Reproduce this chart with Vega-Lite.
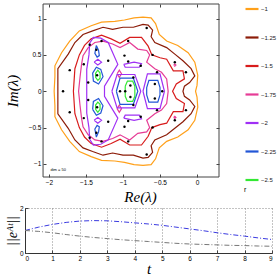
{
"$schema":"https://vega.github.io/schema/vega-lite/v6.json",
"padding":{"left":5,"top":1,"right":0,"bottom":0},
"spacing":0,
"config":{"font":"Liberation Sans","view":{"stroke":null}},
"datasets":{
"contours":[
{"r":"−1","id":"o","o":0,"x":-1.93,"y":0},{"r":"−1","id":"o","o":1,"x":-1.92,"y":0.2},{"r":"−1","id":"o","o":2,"x":-1.92,"y":0.35},{"r":"−1","id":"o","o":3,"x":-1.83,"y":0.53},{"r":"−1","id":"o","o":4,"x":-1.72,"y":0.69},{"r":"−1","id":"o","o":5,"x":-1.59,"y":0.83},{"r":"−1","id":"o","o":6,"x":-1.43,"y":0.9},{"r":"−1","id":"o","o":7,"x":-1.29,"y":0.95},{"r":"−1","id":"o","o":8,"x":-1.11,"y":0.96},{"r":"−1","id":"o","o":9,"x":-0.98,"y":0.98},{"r":"−1","id":"o","o":10,"x":-0.85,"y":1.01},{"r":"−1","id":"o","o":11,"x":-0.73,"y":1.02},{"r":"−1","id":"o","o":12,"x":-0.62,"y":1.01},{"r":"−1","id":"o","o":13,"x":-0.56,"y":0.93},{"r":"−1","id":"o","o":14,"x":-0.51,"y":0.78},{"r":"−1","id":"o","o":15,"x":-0.41,"y":0.69},{"r":"−1","id":"o","o":16,"x":-0.26,"y":0.63},{"r":"−1","id":"o","o":17,"x":-0.12,"y":0.53},{"r":"−1","id":"o","o":18,"x":-0.03,"y":0.4},{"r":"−1","id":"o","o":19,"x":0.01,"y":0.22},{"r":"−1","id":"o","o":20,"x":0.0,"y":0.08},{"r":"−1","id":"o","o":21,"x":-0.02,"y":0},{"r":"−1","id":"o","o":22,"x":0.0,"y":-0.08},{"r":"−1","id":"o","o":23,"x":0.01,"y":-0.22},{"r":"−1","id":"o","o":24,"x":-0.03,"y":-0.4},{"r":"−1","id":"o","o":25,"x":-0.12,"y":-0.53},{"r":"−1","id":"o","o":26,"x":-0.26,"y":-0.63},{"r":"−1","id":"o","o":27,"x":-0.41,"y":-0.69},{"r":"−1","id":"o","o":28,"x":-0.51,"y":-0.78},{"r":"−1","id":"o","o":29,"x":-0.56,"y":-0.93},{"r":"−1","id":"o","o":30,"x":-0.62,"y":-1.01},{"r":"−1","id":"o","o":31,"x":-0.73,"y":-1.02},{"r":"−1","id":"o","o":32,"x":-0.85,"y":-1.01},{"r":"−1","id":"o","o":33,"x":-0.98,"y":-0.98},{"r":"−1","id":"o","o":34,"x":-1.11,"y":-0.96},{"r":"−1","id":"o","o":35,"x":-1.29,"y":-0.95},{"r":"−1","id":"o","o":36,"x":-1.43,"y":-0.9},{"r":"−1","id":"o","o":37,"x":-1.59,"y":-0.83},{"r":"−1","id":"o","o":38,"x":-1.72,"y":-0.69},{"r":"−1","id":"o","o":39,"x":-1.83,"y":-0.53},{"r":"−1","id":"o","o":40,"x":-1.92,"y":-0.35},{"r":"−1","id":"o","o":41,"x":-1.92,"y":-0.2},{"r":"−1","id":"o","o":42,"x":-1.93,"y":0},
{"r":"−1.25","id":"b","o":0,"x":-1.88,"y":0},{"r":"−1.25","id":"b","o":1,"x":-1.88,"y":0.31},{"r":"−1.25","id":"b","o":2,"x":-1.74,"y":0.51},{"r":"−1.25","id":"b","o":3,"x":-1.65,"y":0.67},{"r":"−1.25","id":"b","o":4,"x":-1.54,"y":0.78},{"r":"−1.25","id":"b","o":5,"x":-1.41,"y":0.83},{"r":"−1.25","id":"b","o":6,"x":-1.27,"y":0.88},{"r":"−1.25","id":"b","o":7,"x":-1.14,"y":0.85},{"r":"−1.25","id":"b","o":8,"x":-1.0,"y":0.88},{"r":"−1.25","id":"b","o":9,"x":-0.86,"y":0.88},{"r":"−1.25","id":"b","o":10,"x":-0.73,"y":0.92},{"r":"−1.25","id":"b","o":11,"x":-0.66,"y":0.91},{"r":"−1.25","id":"b","o":12,"x":-0.6,"y":0.84},{"r":"−1.25","id":"b","o":13,"x":-0.62,"y":0.75},{"r":"−1.25","id":"b","o":14,"x":-0.57,"y":0.67},{"r":"−1.25","id":"b","o":15,"x":-0.41,"y":0.6},{"r":"−1.25","id":"b","o":16,"x":-0.3,"y":0.51},{"r":"−1.25","id":"b","o":17,"x":-0.19,"y":0.42},{"r":"−1.25","id":"b","o":18,"x":-0.08,"y":0.31},{"r":"−1.25","id":"b","o":19,"x":-0.03,"y":0.21},{"r":"−1.25","id":"b","o":20,"x":-0.1,"y":0.12},{"r":"−1.25","id":"b","o":21,"x":-0.17,"y":0.07},{"r":"−1.25","id":"b","o":22,"x":-0.19,"y":0},{"r":"−1.25","id":"b","o":23,"x":-0.17,"y":-0.07},{"r":"−1.25","id":"b","o":24,"x":-0.1,"y":-0.12},{"r":"−1.25","id":"b","o":25,"x":-0.03,"y":-0.21},{"r":"−1.25","id":"b","o":26,"x":-0.08,"y":-0.31},{"r":"−1.25","id":"b","o":27,"x":-0.19,"y":-0.42},{"r":"−1.25","id":"b","o":28,"x":-0.3,"y":-0.51},{"r":"−1.25","id":"b","o":29,"x":-0.41,"y":-0.6},{"r":"−1.25","id":"b","o":30,"x":-0.57,"y":-0.67},{"r":"−1.25","id":"b","o":31,"x":-0.62,"y":-0.75},{"r":"−1.25","id":"b","o":32,"x":-0.6,"y":-0.84},{"r":"−1.25","id":"b","o":33,"x":-0.66,"y":-0.91},{"r":"−1.25","id":"b","o":34,"x":-0.73,"y":-0.92},{"r":"−1.25","id":"b","o":35,"x":-0.86,"y":-0.88},{"r":"−1.25","id":"b","o":36,"x":-1.0,"y":-0.88},{"r":"−1.25","id":"b","o":37,"x":-1.14,"y":-0.85},{"r":"−1.25","id":"b","o":38,"x":-1.27,"y":-0.88},{"r":"−1.25","id":"b","o":39,"x":-1.41,"y":-0.83},{"r":"−1.25","id":"b","o":40,"x":-1.54,"y":-0.78},{"r":"−1.25","id":"b","o":41,"x":-1.65,"y":-0.67},{"r":"−1.25","id":"b","o":42,"x":-1.74,"y":-0.51},{"r":"−1.25","id":"b","o":43,"x":-1.88,"y":-0.31},{"r":"−1.25","id":"b","o":44,"x":-1.88,"y":0},
{"r":"−1.5","id":"c","o":0,"x":-1.67,"y":0},{"r":"−1.5","id":"c","o":1,"x":-1.65,"y":0.31},{"r":"−1.5","id":"c","o":2,"x":-1.59,"y":0.5},{"r":"−1.5","id":"c","o":3,"x":-1.52,"y":0.63},{"r":"−1.5","id":"c","o":4,"x":-1.43,"y":0.72},{"r":"−1.5","id":"c","o":5,"x":-1.29,"y":0.77},{"r":"−1.5","id":"c","o":6,"x":-1.16,"y":0.72},{"r":"−1.5","id":"c","o":7,"x":-1.04,"y":0.66},{"r":"−1.5","id":"c","o":8,"x":-0.91,"y":0.74},{"r":"−1.5","id":"c","o":9,"x":-0.75,"y":0.74},{"r":"−1.5","id":"c","o":10,"x":-0.66,"y":0.62},{"r":"−1.5","id":"c","o":11,"x":-0.61,"y":0.5},{"r":"−1.5","id":"c","o":12,"x":-0.5,"y":0.46},{"r":"−1.5","id":"c","o":13,"x":-0.41,"y":0.44},{"r":"−1.5","id":"c","o":14,"x":-0.32,"y":0.28},{"r":"−1.5","id":"c","o":15,"x":-0.19,"y":0.28},{"r":"−1.5","id":"c","o":16,"x":-0.17,"y":0.17},{"r":"−1.5","id":"c","o":17,"x":-0.28,"y":0.1},{"r":"−1.5","id":"c","o":18,"x":-0.33,"y":0},{"r":"−1.5","id":"c","o":19,"x":-0.28,"y":-0.1},{"r":"−1.5","id":"c","o":20,"x":-0.17,"y":-0.17},{"r":"−1.5","id":"c","o":21,"x":-0.19,"y":-0.28},{"r":"−1.5","id":"c","o":22,"x":-0.32,"y":-0.28},{"r":"−1.5","id":"c","o":23,"x":-0.41,"y":-0.44},{"r":"−1.5","id":"c","o":24,"x":-0.5,"y":-0.46},{"r":"−1.5","id":"c","o":25,"x":-0.61,"y":-0.5},{"r":"−1.5","id":"c","o":26,"x":-0.66,"y":-0.62},{"r":"−1.5","id":"c","o":27,"x":-0.75,"y":-0.74},{"r":"−1.5","id":"c","o":28,"x":-0.91,"y":-0.74},{"r":"−1.5","id":"c","o":29,"x":-1.04,"y":-0.66},{"r":"−1.5","id":"c","o":30,"x":-1.16,"y":-0.72},{"r":"−1.5","id":"c","o":31,"x":-1.29,"y":-0.77},{"r":"−1.5","id":"c","o":32,"x":-1.43,"y":-0.72},{"r":"−1.5","id":"c","o":33,"x":-1.52,"y":-0.63},{"r":"−1.5","id":"c","o":34,"x":-1.59,"y":-0.5},{"r":"−1.5","id":"c","o":35,"x":-1.65,"y":-0.31},{"r":"−1.5","id":"c","o":36,"x":-1.67,"y":0},
{"r":"−1.75","id":"d","o":0,"x":-1.6,"y":0},{"r":"−1.75","id":"d","o":1,"x":-1.58,"y":0.2},{"r":"−1.75","id":"d","o":2,"x":-1.56,"y":0.37},{"r":"−1.75","id":"d","o":3,"x":-1.54,"y":0.49},{"r":"−1.75","id":"d","o":4,"x":-1.47,"y":0.6},{"r":"−1.75","id":"d","o":5,"x":-1.38,"y":0.67},{"r":"−1.75","id":"d","o":6,"x":-1.27,"y":0.69},{"r":"−1.75","id":"d","o":7,"x":-1.14,"y":0.65},{"r":"−1.75","id":"d","o":8,"x":-1.04,"y":0.6},{"r":"−1.75","id":"d","o":9,"x":-0.91,"y":0.67},{"r":"−1.75","id":"d","o":10,"x":-0.8,"y":0.58},{"r":"−1.75","id":"d","o":11,"x":-0.68,"y":0.56},{"r":"−1.75","id":"d","o":12,"x":-0.64,"y":0.5},{"r":"−1.75","id":"d","o":13,"x":-0.68,"y":0.4},{"r":"−1.75","id":"d","o":14,"x":-0.57,"y":0.31},{"r":"−1.75","id":"d","o":15,"x":-0.48,"y":0.26},{"r":"−1.75","id":"d","o":16,"x":-0.41,"y":0.17},{"r":"−1.75","id":"d","o":17,"x":-0.39,"y":0},{"r":"−1.75","id":"d","o":18,"x":-0.41,"y":-0.17},{"r":"−1.75","id":"d","o":19,"x":-0.48,"y":-0.26},{"r":"−1.75","id":"d","o":20,"x":-0.57,"y":-0.31},{"r":"−1.75","id":"d","o":21,"x":-0.68,"y":-0.4},{"r":"−1.75","id":"d","o":22,"x":-0.64,"y":-0.5},{"r":"−1.75","id":"d","o":23,"x":-0.68,"y":-0.56},{"r":"−1.75","id":"d","o":24,"x":-0.8,"y":-0.58},{"r":"−1.75","id":"d","o":25,"x":-0.91,"y":-0.67},{"r":"−1.75","id":"d","o":26,"x":-1.04,"y":-0.6},{"r":"−1.75","id":"d","o":27,"x":-1.14,"y":-0.65},{"r":"−1.75","id":"d","o":28,"x":-1.27,"y":-0.69},{"r":"−1.75","id":"d","o":29,"x":-1.38,"y":-0.67},{"r":"−1.75","id":"d","o":30,"x":-1.47,"y":-0.6},{"r":"−1.75","id":"d","o":31,"x":-1.54,"y":-0.49},{"r":"−1.75","id":"d","o":32,"x":-1.56,"y":-0.37},{"r":"−1.75","id":"d","o":33,"x":-1.58,"y":-0.2},{"r":"−1.75","id":"d","o":34,"x":-1.6,"y":0},
{"r":"−1.75","id":"d2","o":0,"x":-1.08,"y":0.24},{"r":"−1.75","id":"d2","o":1,"x":-1.05,"y":0.29},{"r":"−1.75","id":"d2","o":2,"x":-1.02,"y":0.24},{"r":"−1.75","id":"d2","o":3,"x":-1.05,"y":0.19},{"r":"−1.75","id":"d2","o":4,"x":-1.08,"y":0.24},
{"r":"−1.75","id":"d3","o":0,"x":-1.08,"y":-0.24},{"r":"−1.75","id":"d3","o":1,"x":-1.05,"y":-0.19},{"r":"−1.75","id":"d3","o":2,"x":-1.02,"y":-0.24},{"r":"−1.75","id":"d3","o":3,"x":-1.05,"y":-0.29},{"r":"−1.75","id":"d3","o":4,"x":-1.08,"y":-0.24},
{"r":"−1.75","id":"d4","o":0,"x":-0.315,"y":0.36},{"r":"−1.75","id":"d4","o":1,"x":-0.3,"y":0.375},{"r":"−1.75","id":"d4","o":2,"x":-0.285,"y":0.36},{"r":"−1.75","id":"d4","o":3,"x":-0.3,"y":0.345},{"r":"−1.75","id":"d4","o":4,"x":-0.315,"y":0.36},
{"r":"−1.75","id":"d5","o":0,"x":-0.315,"y":-0.36},{"r":"−1.75","id":"d5","o":1,"x":-0.3,"y":-0.375},{"r":"−1.75","id":"d5","o":2,"x":-0.285,"y":-0.36},{"r":"−1.75","id":"d5","o":3,"x":-0.3,"y":-0.345},{"r":"−1.75","id":"d5","o":4,"x":-0.315,"y":-0.36},
{"r":"−2","id":"e1","o":0,"x":-1.49,"y":0},{"r":"−2","id":"e1","o":1,"x":-1.49,"y":0.3},{"r":"−2","id":"e1","o":2,"x":-1.46,"y":0.5},{"r":"−2","id":"e1","o":3,"x":-1.45,"y":0.66},{"r":"−2","id":"e1","o":4,"x":-1.4,"y":0.74},{"r":"−2","id":"e1","o":5,"x":-1.3,"y":0.73},{"r":"−2","id":"e1","o":6,"x":-1.2,"y":0.67},{"r":"−2","id":"e1","o":7,"x":-1.07,"y":0.37},{"r":"−2","id":"e1","o":8,"x":-1.25,"y":0.07},{"r":"−2","id":"e1","o":9,"x":-1.25,"y":-0.07},{"r":"−2","id":"e1","o":10,"x":-1.07,"y":-0.37},{"r":"−2","id":"e1","o":11,"x":-1.2,"y":-0.67},{"r":"−2","id":"e1","o":12,"x":-1.3,"y":-0.73},{"r":"−2","id":"e1","o":13,"x":-1.4,"y":-0.74},{"r":"−2","id":"e1","o":14,"x":-1.45,"y":-0.66},{"r":"−2","id":"e1","o":15,"x":-1.46,"y":-0.5},{"r":"−2","id":"e1","o":16,"x":-1.49,"y":-0.3},{"r":"−2","id":"e1","o":17,"x":-1.49,"y":0},
{"r":"−2","id":"e2","o":0,"x":-1.15,"y":0},{"r":"−2","id":"e2","o":1,"x":-1.08,"y":0.23},{"r":"−2","id":"e2","o":2,"x":-0.84,"y":0.23},{"r":"−2","id":"e2","o":3,"x":-0.76,"y":0},{"r":"−2","id":"e2","o":4,"x":-0.84,"y":-0.23},{"r":"−2","id":"e2","o":5,"x":-1.08,"y":-0.23},{"r":"−2","id":"e2","o":6,"x":-1.15,"y":0},
{"r":"−2","id":"e3","o":0,"x":-0.73,"y":0},{"r":"−2","id":"e3","o":1,"x":-0.67,"y":0.24},{"r":"−2","id":"e3","o":2,"x":-0.5,"y":0.24},{"r":"−2","id":"e3","o":3,"x":-0.44,"y":0},{"r":"−2","id":"e3","o":4,"x":-0.5,"y":-0.24},{"r":"−2","id":"e3","o":5,"x":-0.67,"y":-0.24},{"r":"−2","id":"e3","o":6,"x":-0.73,"y":0},
{"r":"−2","id":"e4","o":0,"x":-1.39,"y":0.4},{"r":"−2","id":"e4","o":1,"x":-1.34,"y":0.44},{"r":"−2","id":"e4","o":2,"x":-1.29,"y":0.4},{"r":"−2","id":"e4","o":3,"x":-1.34,"y":0.36},{"r":"−2","id":"e4","o":4,"x":-1.39,"y":0.4},
{"r":"−2","id":"e5","o":0,"x":-1.39,"y":-0.4},{"r":"−2","id":"e5","o":1,"x":-1.34,"y":-0.44},{"r":"−2","id":"e5","o":2,"x":-1.29,"y":-0.4},{"r":"−2","id":"e5","o":3,"x":-1.34,"y":-0.36},{"r":"−2","id":"e5","o":4,"x":-1.39,"y":-0.4},
{"r":"−2","id":"e6","o":0,"x":-0.99,"y":0.37},{"r":"−2","id":"e6","o":1,"x":-0.85,"y":0.4},{"r":"−2","id":"e6","o":2,"x":-0.75,"y":0.38},{"r":"−2","id":"e6","o":3,"x":-0.78,"y":0.33},{"r":"−2","id":"e6","o":4,"x":-0.97,"y":0.33},{"r":"−2","id":"e6","o":5,"x":-0.99,"y":0.37},
{"r":"−2","id":"e7","o":0,"x":-0.99,"y":-0.37},{"r":"−2","id":"e7","o":1,"x":-0.85,"y":-0.4},{"r":"−2","id":"e7","o":2,"x":-0.75,"y":-0.38},{"r":"−2","id":"e7","o":3,"x":-0.78,"y":-0.33},{"r":"−2","id":"e7","o":4,"x":-0.97,"y":-0.33},{"r":"−2","id":"e7","o":5,"x":-0.99,"y":-0.37},
{"r":"−2.25","id":"f1","o":0,"x":-1.09,"y":0},{"r":"−2.25","id":"f1","o":1,"x":-1.04,"y":0.18},{"r":"−2.25","id":"f1","o":2,"x":-0.86,"y":0.18},{"r":"−2.25","id":"f1","o":3,"x":-0.8,"y":0},{"r":"−2.25","id":"f1","o":4,"x":-0.86,"y":-0.18},{"r":"−2.25","id":"f1","o":5,"x":-1.04,"y":-0.18},{"r":"−2.25","id":"f1","o":6,"x":-1.09,"y":0},
{"r":"−2.25","id":"f2","o":0,"x":-0.68,"y":0.05},{"r":"−2.25","id":"f2","o":1,"x":-0.65,"y":0.15},{"r":"−2.25","id":"f2","o":2,"x":-0.53,"y":0.15},{"r":"−2.25","id":"f2","o":3,"x":-0.5,"y":0.05},{"r":"−2.25","id":"f2","o":4,"x":-0.5,"y":-0.05},{"r":"−2.25","id":"f2","o":5,"x":-0.53,"y":-0.15},{"r":"−2.25","id":"f2","o":6,"x":-0.65,"y":-0.15},{"r":"−2.25","id":"f2","o":7,"x":-0.68,"y":-0.05},{"r":"−2.25","id":"f2","o":8,"x":-0.68,"y":0.05},
{"r":"−2.25","id":"f3","o":0,"x":-1.41,"y":0.25},{"r":"−2.25","id":"f3","o":1,"x":-1.36,"y":0.33},{"r":"−2.25","id":"f3","o":2,"x":-1.3,"y":0.3},{"r":"−2.25","id":"f3","o":3,"x":-1.27,"y":0.2},{"r":"−2.25","id":"f3","o":4,"x":-1.33,"y":0.1},{"r":"−2.25","id":"f3","o":5,"x":-1.4,"y":0.14},{"r":"−2.25","id":"f3","o":6,"x":-1.41,"y":0.25},
{"r":"−2.25","id":"f4","o":0,"x":-1.41,"y":-0.25},{"r":"−2.25","id":"f4","o":1,"x":-1.36,"y":-0.33},{"r":"−2.25","id":"f4","o":2,"x":-1.3,"y":-0.3},{"r":"−2.25","id":"f4","o":3,"x":-1.27,"y":-0.2},{"r":"−2.25","id":"f4","o":4,"x":-1.33,"y":-0.1},{"r":"−2.25","id":"f4","o":5,"x":-1.4,"y":-0.14},{"r":"−2.25","id":"f4","o":6,"x":-1.41,"y":-0.25},
{"r":"−2.25","id":"f5","o":0,"x":-1.36,"y":0.63},{"r":"−2.25","id":"f5","o":1,"x":-1.33,"y":0.56},{"r":"−2.25","id":"f5","o":2,"x":-1.32,"y":0.49},{"r":"−2.25","id":"f5","o":3,"x":-1.35,"y":0.47},{"r":"−2.25","id":"f5","o":4,"x":-1.38,"y":0.52},{"r":"−2.25","id":"f5","o":5,"x":-1.36,"y":0.63},
{"r":"−2.25","id":"f6","o":0,"x":-1.36,"y":-0.63},{"r":"−2.25","id":"f6","o":1,"x":-1.33,"y":-0.56},{"r":"−2.25","id":"f6","o":2,"x":-1.32,"y":-0.49},{"r":"−2.25","id":"f6","o":3,"x":-1.35,"y":-0.47},{"r":"−2.25","id":"f6","o":4,"x":-1.38,"y":-0.52},{"r":"−2.25","id":"f6","o":5,"x":-1.36,"y":-0.63},
{"r":"−2.5","id":"g1","o":0,"x":-0.97,"y":0.07},{"r":"−2.5","id":"g1","o":1,"x":-0.94,"y":0.14},{"r":"−2.5","id":"g1","o":2,"x":-0.87,"y":0.14},{"r":"−2.5","id":"g1","o":3,"x":-0.84,"y":0.07},{"r":"−2.5","id":"g1","o":4,"x":-0.84,"y":-0.07},{"r":"−2.5","id":"g1","o":5,"x":-0.87,"y":-0.14},{"r":"−2.5","id":"g1","o":6,"x":-0.94,"y":-0.14},{"r":"−2.5","id":"g1","o":7,"x":-0.97,"y":-0.07},{"r":"−2.5","id":"g1","o":8,"x":-0.97,"y":0.07},
{"r":"−2.5","id":"g2","o":0,"x":-1.37,"y":0.25},{"r":"−2.5","id":"g2","o":1,"x":-1.34,"y":0.29},{"r":"−2.5","id":"g2","o":2,"x":-1.31,"y":0.25},{"r":"−2.5","id":"g2","o":3,"x":-1.31,"y":0.18},{"r":"−2.5","id":"g2","o":4,"x":-1.34,"y":0.15},{"r":"−2.5","id":"g2","o":5,"x":-1.37,"y":0.19},{"r":"−2.5","id":"g2","o":6,"x":-1.37,"y":0.25},
{"r":"−2.5","id":"g3","o":0,"x":-1.37,"y":-0.25},{"r":"−2.5","id":"g3","o":1,"x":-1.34,"y":-0.29},{"r":"−2.5","id":"g3","o":2,"x":-1.31,"y":-0.25},{"r":"−2.5","id":"g3","o":3,"x":-1.31,"y":-0.18},{"r":"−2.5","id":"g3","o":4,"x":-1.34,"y":-0.15},{"r":"−2.5","id":"g3","o":5,"x":-1.37,"y":-0.19},{"r":"−2.5","id":"g3","o":6,"x":-1.37,"y":-0.25}
],
"eig":[
{"x":-1.81,"y":0},{"x":-1.04,"y":0},{"x":-0.97,"y":0},{"x":-0.47,"y":0},
{"x":-1.72,"y":0.29},{"x":-1.72,"y":-0.29},{"x":-1.53,"y":0.37},{"x":-1.53,"y":-0.37},{"x":-1.45,"y":0.64},{"x":-1.45,"y":-0.64},{"x":-1.29,"y":0.69},{"x":-1.29,"y":-0.69},{"x":-1.47,"y":0.12},{"x":-1.47,"y":-0.12},{"x":-1.35,"y":0.22},{"x":-1.35,"y":-0.22},{"x":-1.2,"y":0.42},{"x":-1.2,"y":-0.42},{"x":-0.98,"y":0.49},{"x":-0.98,"y":-0.49},{"x":-0.93,"y":0.41},{"x":-0.93,"y":-0.41},{"x":-0.93,"y":0.69},{"x":-0.93,"y":-0.69},{"x":-0.68,"y":0.87},{"x":-0.68,"y":-0.87},{"x":-0.6,"y":0.5},{"x":-0.6,"y":-0.5},{"x":-0.54,"y":0.26},{"x":-0.54,"y":-0.26},{"x":-0.3,"y":0.4},{"x":-0.3,"y":-0.4},{"x":-0.15,"y":0.26},{"x":-0.15,"y":-0.26},{"x":-0.86,"y":0.19},{"x":-0.86,"y":-0.19},{"x":-0.57,"y":0.1},{"x":-0.57,"y":-0.1},{"x":-1.36,"y":0.57},{"x":-1.36,"y":-0.57},{"x":-0.76,"y":0.35},{"x":-0.76,"y":-0.35},{"x":-0.9,"y":0.08},{"x":-0.9,"y":-0.08}
],
"note":[{"x":-1.98,"y":-1.09,"t":"dim = 50"}],
"frame":[{"x":-2.08,"x2":0.297,"y":-1.18,"y2":1.2}],
"norm":[
{"t":0,"v":1.0,"s":"a"},{"t":0.5,"v":1.15,"s":"a"},{"t":1,"v":1.27,"s":"a"},{"t":1.5,"v":1.36,"s":"a"},{"t":2,"v":1.42,"s":"a"},{"t":2.5,"v":1.44,"s":"a"},{"t":3,"v":1.43,"s":"a"},{"t":3.5,"v":1.39,"s":"a"},{"t":4,"v":1.34,"s":"a"},{"t":4.5,"v":1.29,"s":"a"},{"t":5,"v":1.23,"s":"a"},{"t":5.5,"v":1.15,"s":"a"},{"t":6,"v":1.07,"s":"a"},{"t":6.5,"v":0.99,"s":"a"},{"t":7,"v":0.9,"s":"a"},{"t":7.5,"v":0.82,"s":"a"},{"t":8,"v":0.75,"s":"a"},{"t":8.5,"v":0.67,"s":"a"},{"t":9,"v":0.6,"s":"a"},
{"t":0,"v":1.0,"s":"b"},{"t":0.5,"v":0.96,"s":"b"},{"t":1,"v":0.9,"s":"b"},{"t":1.5,"v":0.82,"s":"b"},{"t":2,"v":0.75,"s":"b"},{"t":2.5,"v":0.69,"s":"b"},{"t":3,"v":0.64,"s":"b"},{"t":3.5,"v":0.59,"s":"b"},{"t":4,"v":0.55,"s":"b"},{"t":4.5,"v":0.51,"s":"b"},{"t":5,"v":0.47,"s":"b"},{"t":5.5,"v":0.43,"s":"b"},{"t":6,"v":0.4,"s":"b"},{"t":6.5,"v":0.38,"s":"b"},{"t":7,"v":0.36,"s":"b"},{"t":7.5,"v":0.34,"s":"b"},{"t":8,"v":0.33,"s":"b"},{"t":8.5,"v":0.31,"s":"b"},{"t":9,"v":0.3,"s":"b"}
]
},
"vconcat":[
{
"width":194,"height":173,
"layer":[
{"data":{"name":"frame"},"mark":{"type":"rect","filled":false,"color":"#444","strokeWidth":1},
"encoding":{
"x":{"field":"x","type":"quantitative","scale":{"domain":[-2.324,0.297],"nice":false,"zero":false},"axis":null},
"x2":{"field":"x2"},
"y":{"field":"y","type":"quantitative","scale":{"domain":[-1.18,1.2],"nice":false,"zero":false},"axis":null},
"y2":{"field":"y2"}
}},
{"data":{"name":"contours"},"mark":{"type":"line","strokeWidth":1.2},
"encoding":{
"x":{"field":"x","type":"quantitative","scale":{"domain":[-2.324,0.297],"nice":false,"zero":false},
"axis":{"values":[-2,-1.5,-1,-0.5,0],"format":"~g","title":"Re(λ)","titleFont":"Liberation Serif","titleFontStyle":"italic","titleFontWeight":"normal","titleFontSize":15,"titleColor":"#000","titlePadding":4,"titleX":115,"labelFontSize":6.5,"labelColor":"#000","labelFont":"Liberation Sans","tickSize":-3,"labelPadding":5,"tickColor":"#444","domain":false,"grid":false}},
"y":{"field":"y","type":"quantitative","scale":{"domain":[-1.18,1.2],"nice":false,"zero":false},
"axis":{"values":[-1,-0.5,0,0.5,1],"format":"~g","title":"Im(λ)","offset":-18,"titleFont":"Liberation Serif","titleFontStyle":"italic","titleFontWeight":"normal","titleFontSize":15,"titleColor":"#000","titlePadding":8,"labelFontSize":6.5,"labelColor":"#000","labelFont":"Liberation Sans","tickSize":-3,"labelPadding":5,"tickColor":"#444","domain":false,"grid":false}},
"color":{"field":"r","type":"nominal","scale":{"domain":["−1","−1.25","−1.5","−1.75","−2","−2.25","−2.5"],"range":["#ffa01a","#8c1c08","#d81c1c","#e63c96","#a030f5","#2256d6","#33e833"]},
"legend":{"orient":"none","legendX":219,"legendY":-3,"symbolType":"stroke","symbolSize":169,"symbolStrokeWidth":2.2,"labelFontSize":6,"labelFont":"Liberation Sans","labelColor":"#222","labelOffset":1,"rowPadding":15.5,"title":"r","titleOrient":"bottom","titleFontSize":7,"titleFontWeight":"normal","titleFont":"Liberation Sans","titleColor":"#000","titleAnchor":"start","titlePadding":2}},
"detail":{"field":"id"},
"order":{"field":"o","type":"quantitative"}
}},
{"data":{"name":"eig"},"mark":{"type":"point","filled":true,"color":"#000","size":6,"opacity":1},
"encoding":{
"x":{"field":"x","type":"quantitative","scale":{"domain":[-2.324,0.297],"nice":false,"zero":false},"axis":{"orient":"top","values":[-2,-1.5,-1,-0.5,0],"labels":false,"title":null,"tickSize":-3,"tickColor":"#444","domain":false,"grid":false}},
"y":{"field":"y","type":"quantitative","scale":{"domain":[-1.18,1.2],"nice":false,"zero":false},"axis":{"orient":"right","values":[-1,-0.5,0,0.5,1],"labels":false,"title":null,"tickSize":-3,"tickColor":"#444","domain":false,"grid":false}}
}},
{"data":{"name":"note"},"mark":{"type":"text","fontSize":4,"align":"left","baseline":"middle","color":"#000"},
"encoding":{
"x":{"field":"x","type":"quantitative","axis":null},
"y":{"field":"y","type":"quantitative","axis":null},
"text":{"field":"t"}
}}
],
"resolve":{"axis":{"x":"independent","y":"independent"}}
},
{
"width":247,"height":45,
"data":{"name":"norm"},
"mark":{"type":"line","strokeWidth":1,"strokeDash":[5,2,1,2]},
"encoding":{
"x":{"field":"t","type":"quantitative","scale":{"domain":[0,9],"nice":false,"zero":false},
"axis":{"values":[0,1,2,3,4,5,6,7,8,9],"format":"d","title":"t","titleFont":"Liberation Serif","titleFontStyle":"italic","titleFontWeight":"normal","titleFontSize":15,"titleColor":"#000","titlePadding":0,"labelFontSize":6.5,"labelColor":"#000","tickSize":-3,"labelPadding":5,"tickColor":"#444","domainColor":"#333","grid":true,"gridDash":[1,2],"gridColor":"#888"}},
"y":{"field":"v","type":"quantitative","scale":{"domain":[0,2],"nice":false,"zero":false},
"axis":{"values":[0,1,2],"format":"d","title":"||eᴬᵗ||","titleFont":"Liberation Serif","titleFontStyle":"italic","titleFontWeight":"normal","titleFontSize":14,"titleColor":"#000","titlePadding":0,"labelFontSize":6.5,"labelColor":"#000","tickSize":-3,"labelPadding":5,"tickColor":"#444","domainColor":"#333","grid":true,"gridDash":[1,2],"gridColor":"#888"}},
"stroke":{"field":"s","type":"nominal","scale":{"domain":["a","b"],"range":["#3a3ae0","#777777"]},"legend":null},
"detail":{"field":"s"}
}
}
]
}
